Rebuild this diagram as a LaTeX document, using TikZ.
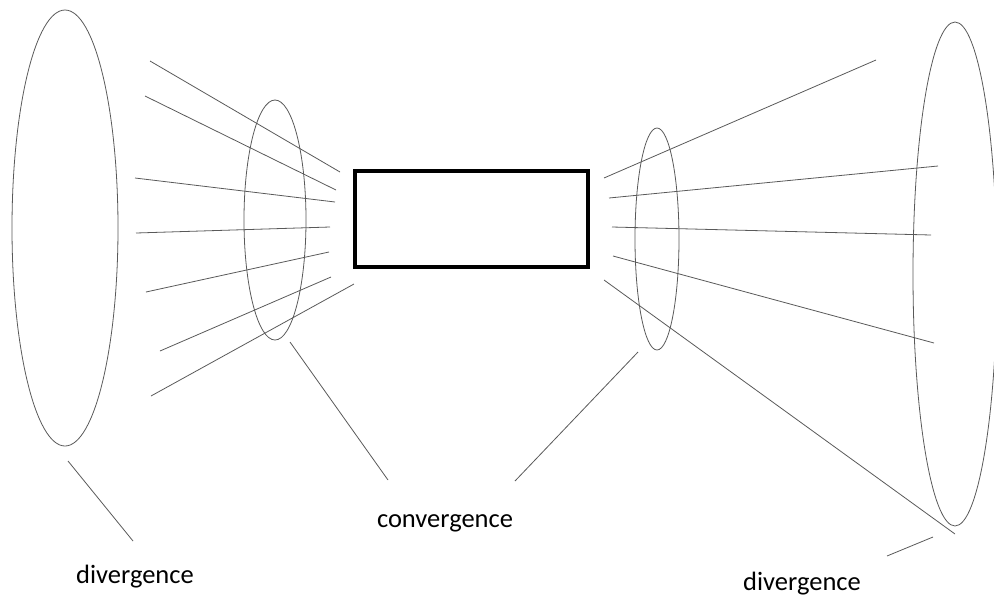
\documentclass[tikz,border=0pt]{standalone}
\usepackage{fontspec}
\setmainfont{Carlito}
\begin{document}
\begin{tikzpicture}[x=1pt,y=-1pt,ray/.style={color=black!65,line width=.8pt}]
  \useasboundingbox (0,0) rectangle (994,598);
  \draw[ray] (65,228) ellipse (53 and 218);
  \draw[ray] (275,220) ellipse (31 and 120);
  \draw[ray] (657,239) ellipse (22 and 111);
  \draw[ray] (955,274) ellipse (42 and 252);
  \draw[line width=3.5pt] (355,171) rectangle (588,267);
  % left rays
  \draw[ray] (150,61) -- (340,172);
  \draw[ray] (145,96) -- (336,190);
  \draw[ray] (135,178) -- (335,202);
  \draw[ray] (136,233) -- (330,227);
  \draw[ray] (146,292) -- (329,252);
  \draw[ray] (160,351) -- (331,277);
  \draw[ray] (151,396) -- (354,284);
  % right rays
  \draw[ray] (604,178) -- (876,60);
  \draw[ray] (609,198) -- (938,166);
  \draw[ray] (612,227) -- (931,235);
  \draw[ray] (613,256) -- (934,343);
  \draw[ray] (604,280) -- (955,534);
  % labels
  \node[font=\fontsize{26.5}{30}\selectfont] (conv) at (445,523) {convergence};
  \node[font=\fontsize{26.5}{30}\selectfont] (divl) at (135,577) {divergence};
  \node[font=\fontsize{26.5}{30}\selectfont] (divr) at (802,584) {divergence};
  \draw[ray] (290,342) -- (388,480);
  \draw[ray] (638,352) -- (515,481);
  \draw[ray] (68,461) -- (133,541);
  \draw[ray] (933,537) -- (887,556);
\end{tikzpicture}
\end{document}
